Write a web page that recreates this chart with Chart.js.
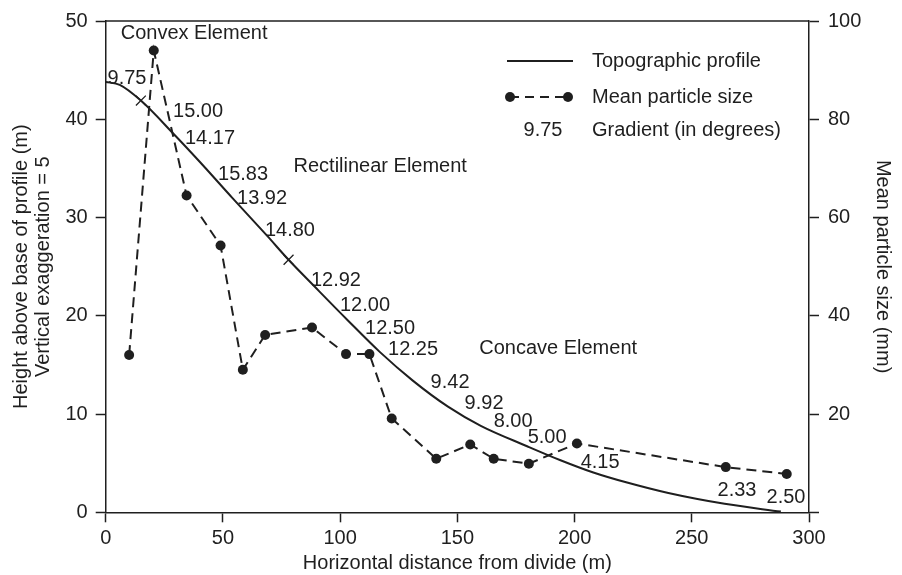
<!DOCTYPE html>
<html>
<head>
<meta charset="utf-8">
<title>Slope profile and particle size</title>
<script src="https://cdn.jsdelivr.net/npm/chart.js@4.4.1/dist/chart.umd.min.js"></script>
<style>
  html, body { margin: 0; padding: 0; background: #fff; }
  #wrap { width: 902px; height: 575px; position: relative; }
</style>
</head>
<body>
<div id="wrap"><canvas id="chart"></canvas></div>
<script>
"use strict";

// topographic profile: distance from divide (m) and height above base (m)
const profileX = [0, 6, 15, 29, 40, 54, 69, 78, 89, 103, 117, 131, 146, 160, 180, 194, 208, 222, 240, 264, 288];
const profileY = [43.8, 43.5, 41.9, 38.5, 35.7, 32.0, 28.1, 25.7, 23.0, 19.6, 16.3, 13.4, 10.75, 8.8, 6.7, 5.3, 4.05, 3.05, 1.96, 0.86, 0.07];

// mean particle size samples: distance (m) and size (mm)
const sizeX = [10, 20.5, 34.5, 49, 58.5, 68, 88, 102.5, 112.5, 122, 141, 155.5, 165.5, 180.5, 201, 264.5, 290.5];
const sizeY = [32, 94, 64.5, 54.3, 29, 36.1, 37.6, 32.2, 32.2, 19.1, 10.9, 13.8, 10.9, 9.9, 14, 9.2, 7.8];

// boundaries between slope elements, marked with a cross on the profile
const breakX = [15, 78];
const breakY = [41.9, 25.7];

// gradient readings in degrees, and the point each one is written at
const gradients = ["9.75", "15.00", "14.17", "15.83", "13.92", "14.80", "12.92", "12.00", "12.50",
  "12.25", "9.42", "9.92", "8.00", "5.00", "4.15", "2.33", "2.50"];
const gradientAtX = [9.1, 39.4, 44.5, 58.6, 66.7, 78.6, 98.2, 110.6, 121.3, 131.1, 146.9, 161.4, 173.8, 188.3, 210.9, 269.3, 290.2];
const gradientAtY = [44.1, 40.8, 38.0, 34.4, 31.9, 28.7, 23.6, 21.0, 18.7, 16.55, 13.2, 11.08, 9.25, 7.63, 5.09, 2.26, 1.55];

const elementNames = ["Convex Element", "Rectilinear Element", "Concave Element"];
const elementAtX = [37.7, 117.1, 193];
const elementAtY = [48.7, 35.2, 16.65];

const INK = "#1f1f1f";
const FONT = "'Liberation Sans', Arial, Helvetica, sans-serif";

function points(xs, ys) {
  return xs.map((x, i) => ({ x: x, y: ys[i] }));
}

// gradient numbers, element names and the key box
const annotations = {
  id: "annotations",
  afterDraw(chart) {
    const ctx = chart.ctx;
    const xs = chart.scales.x;
    const ys = chart.scales.y;
    const area = chart.chartArea;
    ctx.save();

    // top edge of the frame
    ctx.strokeStyle = INK;
    ctx.lineWidth = 1.5;
    ctx.beginPath();
    ctx.moveTo(area.left, area.top);
    ctx.lineTo(area.right, area.top);
    ctx.stroke();

    ctx.fillStyle = INK;
    ctx.font = "20px " + FONT;
    ctx.textAlign = "center";
    ctx.textBaseline = "middle";
    gradients.forEach((g, i) => {
      ctx.fillText(g, xs.getPixelForValue(gradientAtX[i]), ys.getPixelForValue(gradientAtY[i]));
    });
    elementNames.forEach((name, i) => {
      ctx.fillText(name, xs.getPixelForValue(elementAtX[i]), ys.getPixelForValue(elementAtY[i]));
    });

    // key
    ctx.lineWidth = 2;
    ctx.beginPath();
    ctx.moveTo(507, 61);
    ctx.lineTo(573, 61);
    ctx.stroke();

    ctx.setLineDash([9, 6]);
    ctx.beginPath();
    ctx.moveTo(510, 97);
    ctx.lineTo(568, 97);
    ctx.stroke();
    ctx.setLineDash([]);
    [510, 568].forEach(px => {
      ctx.beginPath();
      ctx.arc(px, 97, 5, 0, Math.PI * 2);
      ctx.fill();
    });
    ctx.fillText("9.75", 543, 130);

    ctx.textAlign = "left";
    ctx.fillText("Topographic profile", 592, 61);
    ctx.fillText("Mean particle size", 592, 97);
    ctx.fillText("Gradient (in degrees)", 592, 130);
    ctx.restore();
  }
};

const axisLook = {
  grid: { drawOnChartArea: false, drawTicks: true, tickLength: 10, tickColor: INK, tickWidth: 1.5 },
  border: { display: true, color: INK, width: 1.5 }
};

const chart = new Chart(document.getElementById("chart"), {
  type: "line",
  data: {
    datasets: [
      {
        label: "Topographic profile",
        data: points(profileX, profileY),
        borderColor: INK,
        borderWidth: 2,
        pointRadius: 0,
        cubicInterpolationMode: "monotone",
        fill: false,
        yAxisID: "y"
      },
      {
        label: "Element boundary",
        data: points(breakX, breakY),
        showLine: false,
        pointStyle: "crossRot",
        pointRadius: 7,
        borderColor: INK,
        borderWidth: 1.3,
        yAxisID: "y"
      },
      {
        label: "Mean particle size",
        data: points(sizeX, sizeY),
        borderColor: INK,
        borderWidth: 2,
        borderDash: [10, 6],
        pointRadius: 5,
        pointBackgroundColor: INK,
        pointBorderWidth: 0,
        tension: 0,
        fill: false,
        yAxisID: "y2"
      }
    ]
  },
  options: {
    responsive: true,
    maintainAspectRatio: false,
    animation: false,
    layout: { padding: { top: 19, left: 0, right: 0, bottom: 0 } },
    plugins: { legend: { display: false }, tooltip: { enabled: false } },
    scales: {
      x: {
        type: "linear",
        position: "bottom",
        min: 0,
        max: 300,
        ...axisLook,
        ticks: { stepSize: 50, padding: 4, color: INK, font: { family: FONT, size: 20 }, maxRotation: 0 },
        title: {
          display: true,
          text: "Horizontal distance from divide (m)",
          color: INK,
          font: { family: FONT, size: 20 },
          padding: { top: 0, bottom: 0 }
        },
        afterFit(scale) { scale.height = 62.7; }
      },
      y: {
        position: "left",
        min: 0,
        max: 50,
        ...axisLook,
        ticks: { stepSize: 10, padding: 8, color: INK, font: { family: FONT, size: 20 } },
        title: {
          display: true,
          text: ["Height above base of profile (m)", "Vertical exaggeration = 5"],
          color: INK,
          font: { family: FONT, size: 20, lineHeight: 1.1 },
          padding: { top: 10, bottom: 0 }
        },
        afterFit(scale) { scale.width = 105.7; }
      },
      y2: {
        position: "right",
        min: 0,
        max: 100,
        ...axisLook,
        ticks: {
          stepSize: 20,
          padding: 9,
          color: INK,
          font: { family: FONT, size: 20 },
          callback: v => (v === 0 ? "" : v)
        },
        title: {
          display: true,
          text: "Mean particle size (mm)",
          color: INK,
          font: { family: FONT, size: 20, lineHeight: 1.1 },
          padding: { top: 8, bottom: 0 }
        },
        afterFit(scale) { scale.width = 93; }
      }
    }
  },
  plugins: [annotations]
});
</script>
</body>
</html>
